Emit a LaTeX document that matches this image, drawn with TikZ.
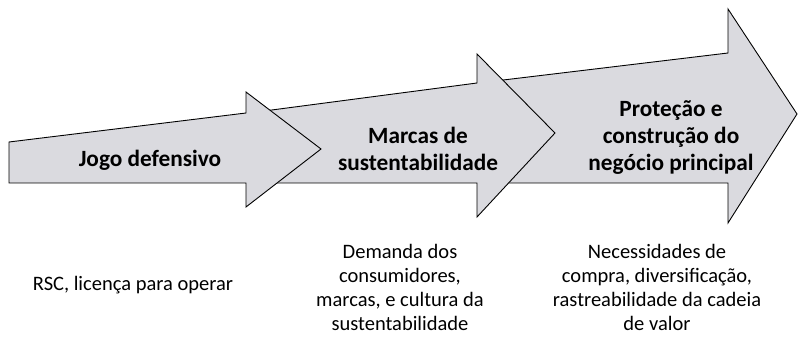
\documentclass[tikz,border=0pt]{standalone}
\usepackage{fontspec}
\setmainfont{Carlito}
\definecolor{arrowfill}{RGB}{218,218,223}
\begin{document}
\begin{tikzpicture}[x=1pt,y=-1pt,
  arrowshape/.style={draw=black,fill=arrowfill,line width=0.9pt,line join=miter},
  headtext/.style={align=center,font=\fontsize{23.3}{27}\selectfont\bfseries},
  subtext/.style={align=center,font=\fontsize{20.5}{24}\selectfont}]
\useasboundingbox (0,0) rectangle (798,344);
% arrow 3 (back)
\path[arrowshape] (485,183) -- (485,82.2) -- (728,53) -- (728,9) -- (797,114)
  -- (728,223) -- (728,183) -- cycle;
% arrow 2
\path[arrowshape] (255,183) -- (255,112.2) -- (477,83) -- (477,54) -- (555,133)
  -- (477,217) -- (477,183) -- cycle;
% arrow 1 (front)
\path[arrowshape] (9,183) -- (9,142) -- (246,113) -- (246,92) -- (321,149)
  -- (246,207) -- (246,183) -- cycle;
\node[headtext] (h1) at (150,160) {Jogo defensivo};
\node[headtext] (h2) at (418,148.5) {Marcas de\\sustentabilidade};
\node[headtext] (h3) at (671,138) {Proteção e\\construção do\\negócio principal};
\node[subtext] (s1) at (133,285) {RSC, licença para operar};
\node[subtext] (s2) at (400,287) {Demanda dos\\consumidores,\\marcas, e cultura da\\sustentabilidade};
\node[subtext] (s3) at (657,287) {Necessidades de\\compra, diversificação,\\rastreabilidade da cadeia\\de valor};
\end{tikzpicture}
\end{document}
